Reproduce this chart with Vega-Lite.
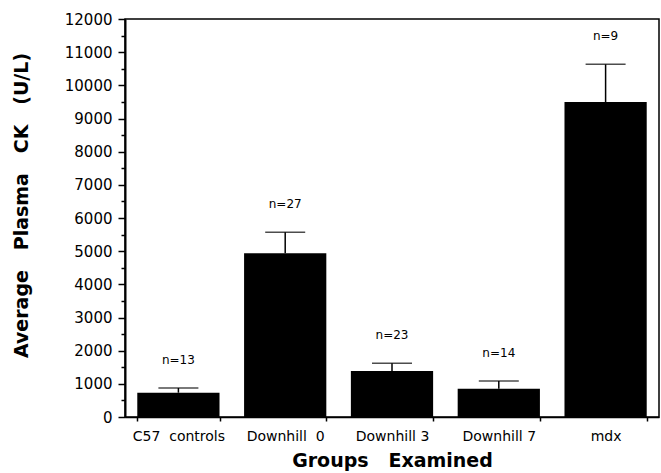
{
  "$schema": "https://vega.github.io/schema/vega-lite/v6.json",
  "width": 534,
  "height": 398,
  "autosize": {"type": "none"},
  "padding": {"left": 125, "top": 19, "right": 2, "bottom": 56},
  "background": "white",
  "config": {
    "view": {"stroke": "black", "strokeWidth": 1.5},
    "font": "DejaVu Sans",
    "axisY": {
      "format": "d",
      "labelOverlap": false,
      "tickColor": "black",
      "tickWidth": 1.5,
      "domainColor": "black",
      "domainWidth": 2,
      "labelFontSize": 15,
      "labelColor": "black",
      "labelPadding": 6,
      "grid": false,
      "orient": "left",
      "titleFontSize": 19,
      "titleFontWeight": "bold",
      "titleColor": "black",
      "titleX": -94,
      "titleY": 186
    }
  },
  "resolve": {"axis": {"y": "independent"}},
  "data": {
    "values": [
      {"group": "C57\u00a0\u00a0controls", "mean": 733, "error_top": 874, "n_label": "n=13"},
      {"group": "Downhill\u00a0\u00a00", "mean": 4935, "error_top": 5568, "n_label": "n=27"},
      {"group": "Downhill 3", "mean": 1387, "error_top": 1619, "n_label": "n=23"},
      {"group": "Downhill 7", "mean": 853, "error_top": 1085, "n_label": "n=14"},
      {"group": "mdx", "mean": 9497, "error_top": 10633, "n_label": "n=9"}
    ]
  },
  "encoding": {
    "x": {
      "field": "group",
      "type": "nominal",
      "sort": null,
      "scale": {"paddingInner": 0.23, "paddingOuter": 0.115},
      "axis": {
        "title": "Groups\u00a0\u00a0\u00a0Examined",
        "labelAngle": 0,
        "tickBand": "extent",
        "tickSize": 4,
        "tickColor": "black",
        "tickWidth": 1.5,
        "domainColor": "black",
        "domainWidth": 1.5,
        "labelFontSize": 14,
        "labelColor": "black",
        "labelPadding": 8,
        "titleFontSize": 19,
        "titleFontWeight": "bold",
        "titleColor": "black",
        "titlePadding": 8
      }
    }
  },
  "layer": [
    {
      "mark": {"type": "bar", "color": "black"},
      "encoding": {
        "y": {
          "field": "mean",
          "type": "quantitative",
          "scale": {"domain": [0, 12000], "nice": false},
          "axis": {
            "orient": "left",
            "title": "Average\u00a0\u00a0\u00a0Plasma\u00a0\u00a0\u00a0CK\u00a0\u00a0\u00a0(U/L)",
            "values": [0, 1000, 2000, 3000, 4000, 5000, 6000, 7000, 8000, 9000, 10000, 11000, 12000],
            "tickSize": 7
          }
        }
      }
    },
    {
      "mark": {"type": "rule", "color": "black", "strokeWidth": 1.5},
      "encoding": {
        "y": {
          "field": "mean",
          "type": "quantitative",
          "axis": {
            "orient": "left",
            "title": null,
            "values": [500, 1500, 2500, 3500, 4500, 5500, 6500, 7500, 8500, 9500, 10500, 11500],
            "labels": false,
            "domain": false,
            "tickSize": 4
          }
        },
        "y2": {"field": "error_top"}
      }
    },
    {
      "mark": {"type": "tick", "color": "black", "thickness": 1.5, "size": 40, "orient": "horizontal"},
      "encoding": {
        "y": {"field": "error_top", "type": "quantitative", "axis": null}
      }
    },
    {
      "mark": {"type": "text", "dy": -28, "fontSize": 12, "color": "black"},
      "encoding": {
        "y": {"field": "error_top", "type": "quantitative", "axis": null},
        "text": {"field": "n_label"}
      }
    }
  ]
}
